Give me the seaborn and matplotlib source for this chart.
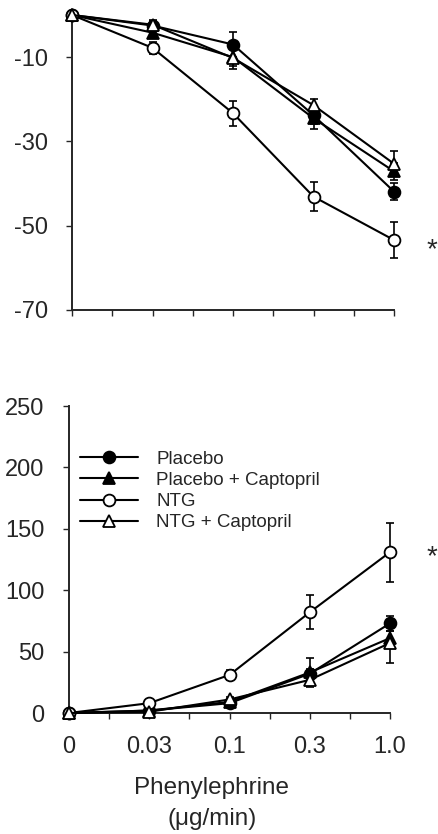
import numpy as np
import pandas as pd
import matplotlib
matplotlib.use("Agg")
import matplotlib.pyplot as plt
import seaborn as sns

# dose categories (x axis) and groups
doses = ["0", "0.03", "0.1", "0.3", "1.0"]
groups = ["Placebo", "Placebo + Captopril", "NTG", "NTG + Captopril"]

# top panel: change (%)
top_placebo = [0, -2.5, -7.0, -23.8, -41.9]
top_placebo_capt = [0, -4.2, -10.0, -24.5, -37.1]
top_ntg = [0, -7.8, -23.3, -43.1, -53.4]
top_ntg_capt = [0, -2.3, -10.2, -21.4, -35.3]
top_err_placebo = [0, 1.0, 3.0, 2.0, 2.0]
top_err_placebo_capt = [0, 1.0, 2.0, 2.5, 2.0]
top_err_ntg = [0, 1.5, 3.0, 3.5, 4.2]
top_err_ntg_capt = [0, 1.0, 2.5, 1.5, 3.0]

# bottom panel
bot_placebo = [0, 2, 8, 32, 73]
bot_placebo_capt = [0, 2, 9, 33, 61]
bot_ntg = [0, 8, 31, 82, 131]
bot_ntg_capt = [0, 1, 11, 27, 57]
bot_err_placebo = [0, 1, 2, 4, 6]
bot_err_placebo_capt = [0, 1, 2, 12, 6]
bot_err_ntg = [0, 2, 4, 14, 24]
bot_err_ntg_capt = [0, 1, 2, 4, 16]

sns.set_style("ticks")
plt.rcParams['font.family'] = ['Liberation Sans', 'DejaVu Sans']
plt.rcParams['axes.unicode_minus'] = False

styles = {
    "Placebo": ("o", "black"),
    "Placebo + Captopril": ("^", "black"),
    "NTG": ("o", "white"),
    "NTG + Captopril": ("^", "white"),
}

fig = plt.figure(figsize=(4.38, 8.34), dpi=100)
ax1 = fig.add_axes([72 / 438, 1 - 310 / 834, 322 / 438, 295 / 834])
ax2 = fig.add_axes([69 / 438, 1 - 713 / 834, 321 / 438, 307 / 834])

pos = np.arange(len(doses))


def draw(ax, series, errors, legend=False):
    for g, vals, errs in zip(groups, series, errors):
        mk, fc = styles[g]
        ax.errorbar(pos, vals, yerr=errs, fmt='none', ecolor='black',
                    elinewidth=1.2, capsize=2.8, capthick=1.2, zorder=2,
                    clip_on=False)
        sns.lineplot(x=pos, y=vals, ax=ax, color='black', marker=mk,
                     markersize=8.5, markerfacecolor=fc, markeredgecolor='black',
                     markeredgewidth=1.3, linewidth=1.5, errorbar=None,
                     label=g if legend else None, clip_on=False, zorder=3)
    ax.set_xlim(0, 4)
    ax.set_xticks(pos)
    ax.set_xticks(pos[:-1] + 0.5, minor=True)
    for s in ['top', 'right']:
        ax.spines[s].set_visible(False)
    for s in ['left', 'bottom']:
        ax.spines[s].set_linewidth(1.4)
    ax.tick_params(which='both', direction='out', length=4.5, width=1.0,
                   labelsize=17)
    ax.tick_params(axis='y', pad=13)
    ax.tick_params(axis='x', pad=12)
    ax.set_xlabel("")
    ax.set_ylabel("")


draw(ax1, [top_placebo, top_placebo_capt, top_ntg, top_ntg_capt],
     [top_err_placebo, top_err_placebo_capt, top_err_ntg, top_err_ntg_capt])
ax1.set_ylim(-70, 0)
ax1.set_yticks([-10, -30, -50, -70])
ax1.tick_params(axis='x', labelbottom=False)

draw(ax2, [bot_placebo, bot_placebo_capt, bot_ntg, bot_ntg_capt],
     [bot_err_placebo, bot_err_placebo_capt, bot_err_ntg, bot_err_ntg_capt],
     legend=True)
ax2.set_ylim(0, 250)
ax2.set_yticks([0, 50, 100, 150, 200, 250])
ax2.set_xticklabels(doses)
ax2.set_xlabel("Phenylephrine\n(\u03bcg/min)", fontsize=17.5, linespacing=1.55)
ax2.xaxis.set_label_coords(0.445, -0.208)

leg = ax2.legend(loc='upper left', bbox_to_anchor=(0.035, 0.855), frameon=False,
                 fontsize=13.5, handlelength=3.1, handletextpad=0.95,
                 labelspacing=0.22, borderpad=0, borderaxespad=0)

fig.text(427 / 438, 1 - 250 / 834, "*", fontsize=20, va='center', ha='left')
fig.text(427 / 438, 1 - 557 / 834, "*", fontsize=20, va='center', ha='left')

fig.savefig("out.png", dpi=100)
